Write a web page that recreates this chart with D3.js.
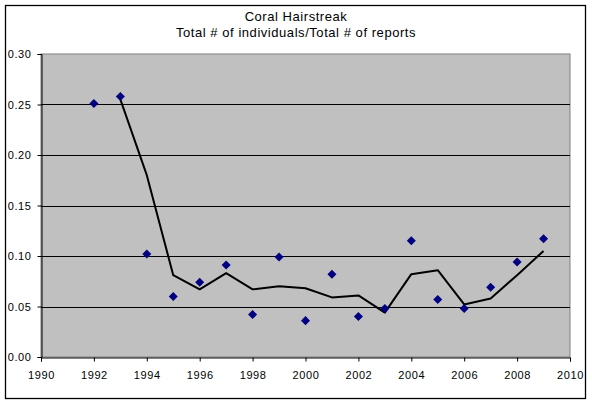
<!DOCTYPE html>
<html>
<head>
<meta charset="utf-8">
<script src="https://cdn.jsdelivr.net/npm/d3@7"></script>
<style>
  body { margin: 0; background: #fff; }
  svg text { font-family: "Liberation Sans", Arial, sans-serif; }
</style>
</head>
<body>
<div id="chart"></div>
<script>
// values
const years = [1992, 1993, 1994, 1995, 1996, 1997, 1998, 1999, 2000,
               2001, 2002, 2003, 2004, 2005, 2006, 2007, 2008, 2009];
const ratios = [0.251, 0.258, 0.102, 0.060, 0.074, 0.091, 0.042, 0.099, 0.036,
                0.082, 0.040, 0.048, 0.115, 0.057, 0.048, 0.069, 0.094, 0.117];
// trend line (2 per. moving average), as drawn
const trendYears = [1993, 1994, 1995, 1996, 1997, 1998, 1999, 2000, 2001,
                    2002, 2003, 2004, 2005, 2006, 2007, 2008, 2009];
const trendValues = [0.255, 0.180, 0.081, 0.067, 0.083, 0.067, 0.070, 0.068, 0.059,
                     0.061, 0.044, 0.082, 0.086, 0.052, 0.058, 0.081, 0.105];
const xTicks = [1990, 1992, 1994, 1996, 1998, 2000, 2002, 2004, 2006, 2008, 2010];
const yTicks = [0, 0.05, 0.10, 0.15, 0.20, 0.25, 0.30];
const titleLines = ["Coral Hairstreak", "Total # of individuals/Total # of reports"];

const W = 592, H = 404;
const plot = {left: 41, right: 570, top: 54, bottom: 357};

const svg = d3.select("#chart")
    .append("svg")
    .attr("width", W)
    .attr("height", H);

// chart border
svg.append("rect")
    .attr("x", 5.5).attr("y", 5.5)
    .attr("width", 580).attr("height", 393)
    .attr("fill", "#fff")
    .attr("stroke", "#000")
    .attr("stroke-width", 1.3);

const x = d3.scaleLinear().domain([1990, 2010]).range([plot.left, plot.right]);
const y = d3.scaleLinear().domain([0, 0.30]).range([plot.bottom, plot.top]);

// plot area
svg.append("rect")
    .attr("x", plot.left).attr("y", plot.top)
    .attr("width", plot.right - plot.left)
    .attr("height", plot.bottom - plot.top)
    .attr("fill", "#c0c0c0")
    .attr("stroke", "#808080");

// gridlines
svg.append("g")
    .selectAll("line")
    .data(yTicks.filter(d => d > 0 && d < 0.30))
    .join("line")
    .attr("x1", plot.left).attr("x2", plot.right)
    .attr("y1", d => Math.round(y(d)) + 0.5)
    .attr("y2", d => Math.round(y(d)) + 0.5)
    .attr("stroke", "#000");

// axes
const yAxis = svg.append("g")
    .attr("transform", `translate(${plot.left + 0.5},0)`)
    .call(d3.axisLeft(y).tickValues(yTicks).tickFormat(d3.format(".2f"))
        .tickSizeOuter(0).tickSize(4).tickPadding(6));
const xAxis = svg.append("g")
    .attr("transform", `translate(0,${plot.bottom + 0.5})`)
    .call(d3.axisBottom(x).tickValues(xTicks).tickFormat(d3.format("d"))
        .tickSizeOuter(0).tickSize(4).tickPadding(10));

[yAxis, xAxis].forEach(a => {
    a.select(".domain").attr("stroke", "#000");
    a.selectAll(".tick line").attr("stroke", "#000");
    a.selectAll(".tick text")
        .attr("fill", "#000")
        .style("font-size", "11px")
        .style("letter-spacing", "0.6px")
        .style("font-family", '"Liberation Sans", Arial, sans-serif');
});

// trend line
const line = d3.line()
    .x((d, i) => x(trendYears[i]))
    .y(d => y(d));

svg.append("path")
    .datum(trendValues)
    .attr("d", line)
    .attr("fill", "none")
    .attr("stroke", "#000")
    .attr("stroke-width", 2)
    .attr("stroke-linejoin", "round");

// diamond markers
const diamond = d3.symbol().type(d3.symbolDiamond2).size(52);
svg.append("g")
    .selectAll("path")
    .data(years)
    .join("path")
    .attr("d", diamond)
    .attr("transform", (d, i) => `translate(${x(d)},${y(ratios[i])})`)
    .attr("fill", "#000080");

// title
svg.append("g")
    .selectAll("text")
    .data(titleLines)
    .join("text")
    .attr("x", 296)
    .attr("y", (d, i) => 21 + i * 16)
    .attr("text-anchor", "middle")
    .attr("fill", "#000")
    .style("font-size", "13px")
    .style("letter-spacing", "0.55px")
    .text(d => d);
</script>
</body>
</html>
